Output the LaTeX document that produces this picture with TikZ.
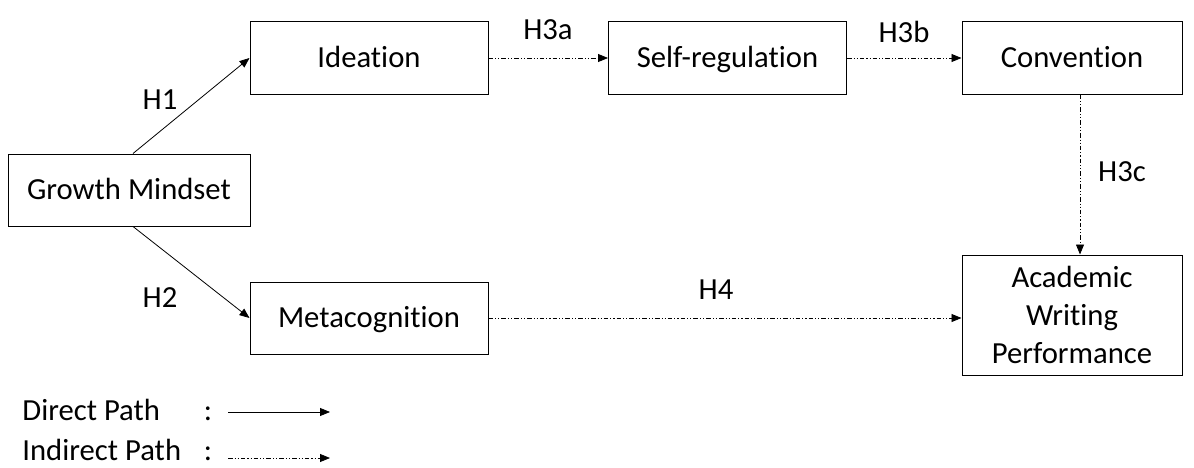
\documentclass[tikz,border=0pt]{standalone}
\usepackage{fontspec}
\setmainfont{Carlito}[Ligatures=NoCommon]
\usetikzlibrary{arrows.meta,positioning}

\tikzset{
  var/.style={draw, line width=0.75pt, minimum width=178.5pt, minimum height=54pt,
    align=center, inner sep=2pt, font=\fontsize{23}{28.5}\selectfont},
  oneline/.style={text height=16.5pt, text depth=2.5pt},
  lbl/.style={font=\fontsize{23}{28.5}\selectfont, inner sep=0pt},
  indirect/.style={dash pattern=on 3.5pt off 1.5pt on 0.8pt off 1.5pt on 0.8pt off 1.5pt}
}

\begin{document}
\begin{tikzpicture}[x=0.75pt,y=-0.75pt,>={Triangle[length=7.5pt,width=6pt]},line width=0.6pt]
\useasboundingbox (0,0) rectangle (1194,467);
\node[var, oneline, minimum width=181.5pt] (gm)  at (129,190) {Growth Mindset};
\node[var, oneline] (idea) at (369,58)  {Ideation};
\node[var, oneline] (self) at (727.5,58) {Self-regulation};
\node[var, oneline, minimum width=165pt] (conv) at (1072,58) {Convention};
\node[var, oneline] (meta) at (369,318) {Metacognition};
\node[var, minimum width=165pt, minimum height=90pt] (awp) at (1072,315) {Academic\\Writing\\Performance};

% hypothesised paths
\path[->] ([xshift=3pt]gm.north) edge (idea.west);
\path[->] ([xshift=3pt]gm.south) edge (meta.west);
\path[->, indirect] (idea) edge (self);
\path[->, indirect] (self) edge (conv);
\path[->, indirect] ([xshift=6pt]conv.south) edge ([xshift=6pt]awp.north);
\path[->, indirect] (meta) edge (meta -| awp.west);

\node[lbl] (h1)  at (160,100) {H1};
\node[lbl] (h2)  at (160,298) {H2};
\node[lbl] (h3a) at (548,30)  {H3a};
\node[lbl] (h3b) at (904,32)  {H3b};
\node[lbl] (h3c) at (1122,172) {H3c};
\node[lbl] (h4)  at (716,290) {H4};

% legend
\node[lbl, anchor=base west] (dp) at (22,420) {Direct Path};
\node[lbl, anchor=base west] (ip) at (22,460) {Indirect Path};
\node[lbl, anchor=base] (c1) at (208,420) {:};
\node[lbl, anchor=base] (c2) at (208,460) {:};
\coordinate (d0) at (228,412);
\coordinate (d1) at (330,412);
\coordinate (i0) at (228,458);
\coordinate (i1) at (330,458);
\draw[->] (d0) -- (d1);
\draw[->, indirect] (i0) -- (i1);
\end{tikzpicture}
\end{document}
